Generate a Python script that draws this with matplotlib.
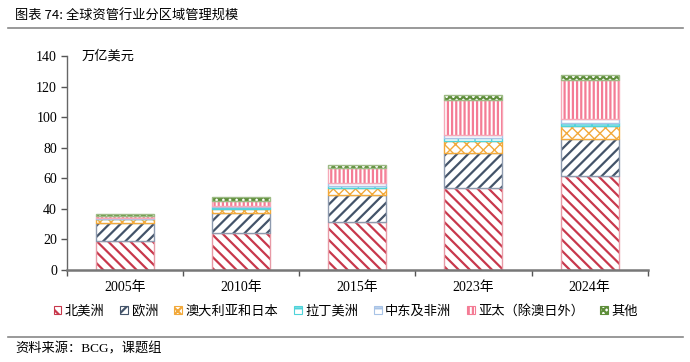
import matplotlib
matplotlib.use("Agg")
import matplotlib.pyplot as plt
from matplotlib.patches import Patch
from matplotlib.lines import Line2D
import numpy as np

plt.rcParams['font.family'] = ['Noto Sans CJK SC', 'DejaVu Sans']
plt.rcParams['hatch.linewidth'] = 1.6

categories = ['2005年', '2010年', '2015年', '2023年', '2024年']
series_names = ['北美洲', '欧洲', '澳大利亚和日本', '拉丁美洲', '中东及非洲', '亚太（除澳日外）', '其他']
north_america = [19.1, 24.0, 31.6, 54.0, 61.4]
europe = [11.4, 13.3, 17.4, 22.9, 24.6]
aus_japan = [2.6, 2.9, 4.4, 7.6, 8.2]
latin_america = [0.6, 1.3, 1.5, 2.2, 2.2]
middle_east_africa = [0.5, 0.7, 1.8, 1.5, 2.6]
asia_pacific = [1.1, 3.3, 9.8, 22.9, 25.5]
others = [1.3, 2.0, 2.2, 3.3, 3.0]
yticks = [0, 20, 40, 60, 80, 100, 120, 140]

series = [north_america, europe, aus_japan, latin_america, middle_east_africa, asia_pacific, others]
hatch_colors = ['#C8384C', '#44546A', '#F2A93B', '#4FD3DA', '#A8C3E6', '#F47C95', '#5E8E3A']
border_colors = ['#E89AA6', '#8E9AAE', '#F2A93B', '#4FD3DA', '#A8C3E6', '#F7A9B8', '#9DBB85']
hatches = ['\\\\\\', '///', 'xxx', '+', '-', '||||', 'xxxxx']
hatch_lw = [1.6, 1.6, 1.0, 1.0, 1.0, 1.6, 1.6]

fig = plt.figure(figsize=(6.9, 3.62), dpi=100)
ax = fig.add_axes([0.0967, 0.254, 0.842, 0.591])

x = np.arange(len(categories))
bottom = np.zeros(len(categories))
width = 0.5
for vals, hc, bc, h, hl in zip(series, hatch_colors, border_colors, hatches, hatch_lw):
    vals = np.array(vals)
    with plt.rc_context({'hatch.linewidth': hl}):
        ax.bar(x, vals, width, bottom=bottom, color='white', edgecolor=hc, hatch=h, linewidth=0)
    ax.bar(x, vals, width, bottom=bottom, fill=False, edgecolor=bc, linewidth=1.0)
    bottom += vals

ax.set_xlim(-0.5, len(categories) - 0.5)
ax.set_ylim(0, 140)
ax.set_yticks(yticks)
ax.set_yticklabels([str(v) for v in yticks], family=['Liberation Serif', 'Noto Sans CJK SC'], fontsize=10)
ax.set_xticks(x)
ax.set_xticklabels(categories, family=['Liberation Serif', 'Noto Sans CJK SC'], fontsize=10)
ax.set_xticks(np.arange(-0.5, len(categories) + 0.5, 1), minor=True)
ax.tick_params(axis='x', which='major', length=0, pad=8)
ax.tick_params(axis='x', which='minor', length=4, direction='out', color='#555555', width=1)
ax.tick_params(axis='y', length=4, direction='out', color='#555555', width=1, pad=3)
for s in ['top', 'right']:
    ax.spines[s].set_visible(False)
ax.spines['left'].set_color('#666666')
ax.spines['left'].set_linewidth(1)
ax.spines['bottom'].set_color('#777777')
ax.spines['bottom'].set_linewidth(1.8)

ax.text(0.026, 1.0, '万亿美元', transform=ax.transAxes, fontsize=9.5, va='center', ha='left')

handles = []
for hc, h, hl in zip(hatch_colors, hatches, hatch_lw):
    with plt.rc_context({'hatch.linewidth': hl}):
        handles.append(Patch(facecolor='white', edgecolor=hc, hatch=h, linewidth=0.8))
fig.legend(handles, series_names, loc='center', bbox_to_anchor=(0.501, 0.141), ncol=7, frameon=False,
           fontsize=9.5, handlelength=0.6, handleheight=0.6, handletextpad=0.25, columnspacing=1.2)

fig.text(0.022, 0.955, '图表 74: 全球资管行业分区域管理规模', fontsize=9.5, va='center', ha='left')
fig.add_artist(Line2D([0.012, 0.99], [0.922, 0.922], color='#888888', linewidth=1.2, transform=fig.transFigure))
fig.add_artist(Line2D([0.012, 0.99], [0.069, 0.069], color='#888888', linewidth=1.2, transform=fig.transFigure))
fig.text(0.022, 0.036, '资料来源：BCG，课题组', fontsize=9.5, va='center', ha='left',
         family=['Liberation Serif', 'Noto Sans CJK SC'])

fig.savefig('out.png', dpi=100)
